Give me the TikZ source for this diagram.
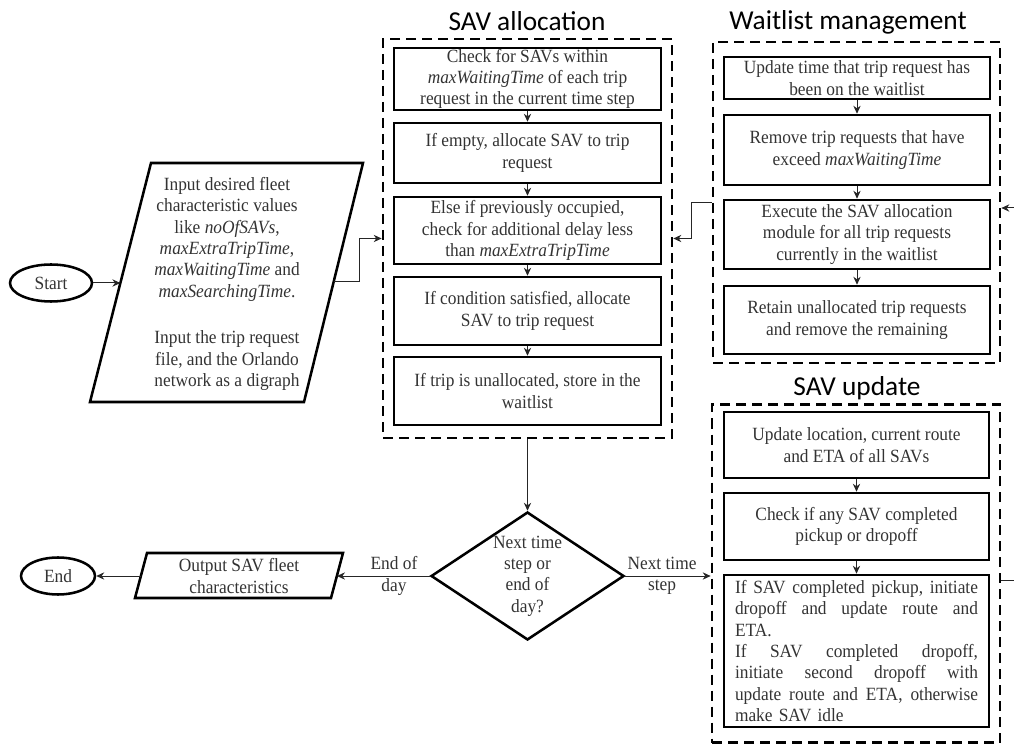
\documentclass[tikz,border=0pt]{standalone}
\usepackage{fontspec}
\setmainfont{Liberation Serif}[FakeStretch=0.93]
\newfontfamily\titlefont{Carlito}
\usetikzlibrary{arrows.meta,shapes.geometric}
\begin{document}
\begin{tikzpicture}[x=0.75pt,y=-0.75pt,
  body/.style={font=\fontsize{14}{16}\selectfont, text=black!80},
  stepbox/.style={body, draw=black, line width=1.9pt, align=center, inner sep=1pt},
  group/.style={draw=black, line width=2pt, dash pattern=on 7.5pt off 4.5pt},
  conn/.style={line width=0.75pt, draw=black!85, -{Stealth[length=6pt,width=5.5pt]}},
  plain/.style={line width=0.75pt, draw=black!85},
  titletext/.style={font=\titlefont\fontsize{20.5}{24}\selectfont},
  lbl/.style={body, align=center, inner sep=0pt},
  term/.style={ellipse, draw=black, line width=1.9pt, body, inner sep=0pt},
  shapeline/.style={draw=black, line width=1.9pt, line join=miter}
]
\useasboundingbox (0,0) rectangle (1014,748);

% ---------- SAV allocation ----------
\node[group, minimum width=216.75pt, minimum height=299.25pt] (ga) at (527.5,238.5) {};
\node[titletext] (ta) at (527,21) {SAV allocation};
\node[stepbox, minimum width=200.25pt, minimum height=43.5pt] (a1) at (527.5,79)
  {Check for SAVs within\\\textit{maxWaitingTime} of each trip\\request in the current time step};
\node[stepbox, minimum width=200.25pt, minimum height=45pt] (a2) at (527.5,153)
  {If empty, allocate SAV to trip\\request};
\node[stepbox, minimum width=200.25pt, minimum height=50.25pt] (a3) at (527.5,230.5)
  {Else if previously occupied,\\check for additional delay less\\than \textit{maxExtraTripTime}};
\node[stepbox, minimum width=200.25pt, minimum height=51pt] (a4) at (527.5,311)
  {If condition satisfied, allocate\\SAV to trip request};
\node[stepbox, minimum width=200.25pt, minimum height=51pt] (a5) at (527.5,391)
  {If trip is unallocated, store in the\\waitlist};
\draw[conn] (a1) -- (a2);
\draw[conn] (a2) -- (a3);
\draw[conn] (a3) -- (a4);
\draw[conn] (a4) -- (a5);

% ---------- Waitlist management ----------
\node[group, minimum width=215.25pt, minimum height=240.75pt] (gw) at (856.5,202.5) {};
\node[titletext] (tw) at (848,22) {Waitlist management};
\node[stepbox, minimum width=199.5pt, minimum height=31.5pt] (w1) at (857,78)
  {Update time that trip request has\\been on the waitlist};
\node[stepbox, minimum width=199.5pt, minimum height=52.5pt] (w2) at (857,150)
  {Remove trip requests that have\\exceed \textit{maxWaitingTime}};
\node[stepbox, minimum width=199.5pt, minimum height=51.75pt] (w3) at (857,234.5)
  {Execute the SAV allocation\\module for all trip requests\\currently in the waitlist};
\node[stepbox, minimum width=199.5pt, minimum height=51pt] (w4) at (857,320)
  {Retain unallocated trip requests\\and remove the remaining};
\draw[conn] (w1) -- (w2);
\draw[conn] (w2) -- (w3);
\draw[conn] (w3) -- (w4);

% ---------- SAV update ----------
\node[group, minimum width=216pt, minimum height=253.5pt] (gu) at (856,573.5) {};
\node[titletext] (tu) at (857,388) {SAV update};
\node[stepbox, minimum width=198.75pt, minimum height=49.5pt] (u1) at (856.5,445)
  {Update location, current route\\and ETA of all SAVs};
\node[stepbox, minimum width=198.75pt, minimum height=50.25pt] (u2) at (856.5,526.5)
  {Check if any SAV completed\\pickup or dropoff};
\node[stepbox, align=left, text width=182.25pt, minimum width=198.75pt, minimum height=114pt] (u3) at (856.5,651)
  {\makebox[182.25pt][l]{If\hfill SAV\hfill completed\hfill pickup,\hfill initiate}\\
   \makebox[182.25pt][l]{dropoff\hfill and\hfill update\hfill route\hfill and}\\
   ETA.\\
   \makebox[182.25pt][l]{If\hfill SAV\hfill completed\hfill dropoff,}\\
   \makebox[182.25pt][l]{initiate\hfill second\hfill dropoff\hfill with}\\
   \makebox[182.25pt][l]{update\hfill route\hfill and\hfill ETA,\hfill otherwise}\\
   make SAV idle};
\draw[conn] (u1) -- (u2);
\draw[conn] (u2) -- (u3);

% ---------- Start / input ----------
\node[term, minimum width=61.5pt, minimum height=27.75pt] (start) at (51,283) {Start};
\draw[shapeline] (151,163) -- (363,163) -- (304,402) -- (90,402) -- cycle;
\coordinate (inL) at (120.4,283);
\coordinate (inR) at (333.6,282);
\node[lbl] (input) at (227,284)
  {Input desired fleet\\characteristic values\\like \textit{noOfSAVs},\\\textit{maxExtraTripTime},\\\textit{maxWaitingTime} and\\\textit{maxSearchingTime}.\\[19pt]Input the trip request\\file, and the Orlando\\network as a digraph};
\draw[conn] (start) -- (inL);
\draw[conn] (inR) -- ++(26,0) |- (ga.west);
\draw[conn] (gw.west) -- ++(-20,0) |- (ga.east);

% ---------- decision ----------
\node[diamond, draw=black, line width=1.9pt, minimum width=144.75pt, minimum height=96pt, inner sep=0pt] (dec) at (527.5,576) {};
\node[lbl] (dect) at (dec.center) {Next time\\step or\\end of\\day?};
\draw[conn] (ga.south) -- (dec.north);

% ---------- output / end ----------
\draw[shapeline] (147,553) -- (343,553) -- (331,598) -- (135,598) -- cycle;
\coordinate (outR) at (337,576);
\coordinate (outL) at (141,576);
\node[lbl] (outt) at (239,576) {Output SAV fleet\\characteristics};
\node[term, minimum width=55.5pt, minimum height=27.75pt] (end) at (58,576) {End};
\draw[conn] (dec.west) -- (outR);
\draw[conn] (outL) -- (end);
\node[lbl] (eod) at (394,576) {End of\\day};
\draw[conn] (dec.east) -- (dec.east -| gu.west);
\node[lbl] (nts) at (662,576) {Next time\\step};

% ---------- loop at right edge ----------
\coordinate (ro) at (1014,580);
\coordinate (ri) at (1014,208);
\draw[plain] (ro -| gu.east) -- (ro);
\draw[conn] (ri) -- (ri -| gw.east);
\end{tikzpicture}
\end{document}
